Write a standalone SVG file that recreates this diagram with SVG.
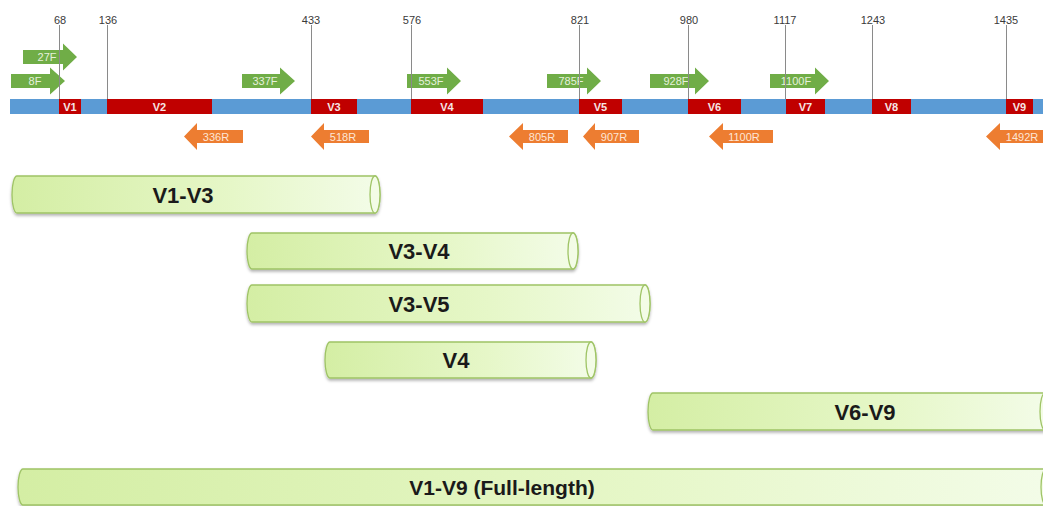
<svg xmlns="http://www.w3.org/2000/svg" width="1043" height="506" viewBox="0 0 1043 506">
<style>
.tick{stroke:#8a8a8a;stroke-width:1}
.tl{font-family:"Liberation Sans",Arial,sans-serif;font-size:11px;fill:#3a3a3a;text-anchor:middle}
.blue{fill:#5b9bd5}
.red{fill:#c00000}
.rl{font-family:"Liberation Sans",Arial,sans-serif;font-size:11px;font-weight:bold;fill:#f6e6e6;text-anchor:middle}
.fa{fill:#70ad47}
.ra{fill:#ed7d31}
.fl{font-family:"Liberation Sans",Arial,sans-serif;font-size:11px;fill:#e6f1dc;text-anchor:middle}
.rtl{font-family:"Liberation Sans",Arial,sans-serif;font-size:11px;fill:#fde6d6;text-anchor:middle}
.cyl{fill:url(#cg);stroke:#9fc466;stroke-width:1.3;filter:url(#sh)}
.cap{fill:#f3fce6;stroke:#9fc466;stroke-width:1.3}
.ct{font-family:"Liberation Sans",Arial,sans-serif;font-size:22px;font-weight:bold;fill:#1a1a1a;text-anchor:middle}
</style>
<defs>
<linearGradient id="cg" x1="0" y1="0" x2="1" y2="0">
<stop offset="0" stop-color="#d4eea4"/>
<stop offset="0.6" stop-color="#e6f7c8"/>
<stop offset="1" stop-color="#f3fce8"/>
</linearGradient>
<filter id="sh" x="-5%" y="-20%" width="110%" height="160%">
<feDropShadow dx="0" dy="2" stdDeviation="1.5" flood-color="#000" flood-opacity="0.3"/>
</filter>
</defs>
<rect width="1043" height="506" fill="#ffffff"/>

<g id="bar">
<rect class="blue" x="10" y="99" width="1035" height="15"/>
<rect class="red" x="59" y="99" width="22" height="15"/><text class="rl" x="70" y="110.5">V1</text>
<rect class="red" x="107" y="99" width="105" height="15"/><text class="rl" x="159.5" y="110.5">V2</text>
<rect class="red" x="311" y="99" width="46" height="15"/><text class="rl" x="334" y="110.5">V3</text>
<rect class="red" x="411" y="99" width="72" height="15"/><text class="rl" x="447" y="110.5">V4</text>
<rect class="red" x="579" y="99" width="43" height="15"/><text class="rl" x="600.5" y="110.5">V5</text>
<rect class="red" x="688" y="99" width="53" height="15"/><text class="rl" x="714.5" y="110.5">V6</text>
<rect class="red" x="786" y="99" width="39" height="15"/><text class="rl" x="805.5" y="110.5">V7</text>
<rect class="red" x="872" y="99" width="39" height="15"/><text class="rl" x="891.5" y="110.5">V8</text>
<rect class="red" x="1006" y="99" width="27" height="15"/><text class="rl" x="1019.5" y="110.5">V9</text>
</g>

<g id="forward-primers">
<path class="fa" d="M23,50H63V43.5L77,57L63,70.5V64H23Z"/><text class="fl" x="47" y="61">27F</text>
<path class="fa" d="M11,74H50V67.5L65,81L50,94.5V88H11Z"/><text class="fl" x="35" y="85">8F</text>
<path class="fa" d="M242,74H280V67.5L295,81L280,94.5V88H242Z"/><text class="fl" x="265" y="85">337F</text>
<path class="fa" d="M407,74H447V67.5L461,81L447,94.5V88H407Z"/><text class="fl" x="431" y="85">553F</text>
<path class="fa" d="M547,74H587V67.5L601,81L587,94.5V88H547Z"/><text class="fl" x="571" y="85">785F</text>
<path class="fa" d="M650,74H695V67.5L709,81L695,94.5V88H650Z"/><text class="fl" x="676" y="85">928F</text>
<path class="fa" d="M770,74H815V67.5L829,81L815,94.5V88H770Z"/><text class="fl" x="796" y="85">1100F</text>
</g>

<g id="reverse-primers">
<path class="ra" d="M243,130H197V123L184,136.5L197,150V143H243Z"/><text class="rtl" x="216" y="140.5">336R</text>
<path class="ra" d="M369,130H324V123L311,136.5L324,150V143H369Z"/><text class="rtl" x="343" y="140.5">518R</text>
<path class="ra" d="M568,130H523V123L509,136.5L523,150V143H568Z"/><text class="rtl" x="542" y="140.5">805R</text>
<path class="ra" d="M639,130H595V123L583,136.5L595,150V143H639Z"/><text class="rtl" x="614" y="140.5">907R</text>
<path class="ra" d="M773,130H723V123L709,136.5L723,150V143H773Z"/><text class="rtl" x="744" y="140.5">1100R</text>
<path class="ra" d="M1048,130H1000V123L986,136.5L1000,150V143H1048Z"/><text class="rtl" x="1022" y="140.5">1492R</text>
</g>

<g id="ticks">
<line class="tick" x1="59.5" y1="25" x2="59.5" y2="99"/><text class="tl" x="60" y="24">68</text>
<line class="tick" x1="107.5" y1="25" x2="107.5" y2="99"/><text class="tl" x="108" y="24">136</text>
<line class="tick" x1="311.5" y1="25" x2="311.5" y2="99"/><text class="tl" x="311" y="24">433</text>
<line class="tick" x1="411.5" y1="25" x2="411.5" y2="99"/><text class="tl" x="412" y="24">576</text>
<line class="tick" x1="579.5" y1="25" x2="579.5" y2="99"/><text class="tl" x="580" y="24">821</text>
<line class="tick" x1="688.5" y1="25" x2="688.5" y2="99"/><text class="tl" x="689" y="24">980</text>
<line class="tick" x1="785.5" y1="25" x2="785.5" y2="99"/><text class="tl" x="785" y="24">1117</text>
<line class="tick" x1="872.5" y1="25" x2="872.5" y2="99"/><text class="tl" x="873" y="24">1243</text>
<line class="tick" x1="1006.5" y1="25" x2="1006.5" y2="99"/><text class="tl" x="1006" y="24">1435</text>
</g>

<g id="V1-V3">
<path class="cyl" d="M17,176H375A5,18.5 0 0 1 375,213H17A5,18.5 0 0 1 17,176Z"/>
<ellipse class="cap" cx="375" cy="194.5" rx="5" ry="18.5"/>
<text class="ct" x="183" y="202.5">V1-V3</text>
</g>
<g id="V3-V4">
<path class="cyl" d="M252,233H573A5,18 0 0 1 573,269H252A5,18 0 0 1 252,233Z"/>
<ellipse class="cap" cx="573" cy="251" rx="5" ry="18"/>
<text class="ct" x="419" y="259">V3-V4</text>
</g>
<g id="V3-V5">
<path class="cyl" d="M252,285H645A5,18.5 0 0 1 645,322H252A5,18.5 0 0 1 252,285Z"/>
<ellipse class="cap" cx="645" cy="303.5" rx="5" ry="18.5"/>
<text class="ct" x="419" y="311.5">V3-V5</text>
</g>
<g id="V4">
<path class="cyl" d="M330,342H591A5,18 0 0 1 591,378H330A5,18 0 0 1 330,342Z"/>
<ellipse class="cap" cx="591" cy="360" rx="5" ry="18"/>
<text class="ct" x="456" y="368">V4</text>
</g>
<g id="V6-V9">
<path class="cyl" d="M653,393H1045A5,18.5 0 0 1 1045,430H653A5,18.5 0 0 1 653,393Z"/>
<ellipse class="cap" cx="1045" cy="411.5" rx="5" ry="18.5"/>
<text class="ct" x="865" y="419.5">V6-V9</text>
</g>
<g id="V1-V9">
<path class="cyl" d="M23,469H1046A5,18 0 0 1 1046,505H23A5,18 0 0 1 23,469Z"/>
<ellipse class="cap" cx="1046" cy="487" rx="5" ry="18"/>
<text class="ct" x="502" y="495" style="font-size:21px">V1-V9 (Full-length)</text>
</g>
</svg>
